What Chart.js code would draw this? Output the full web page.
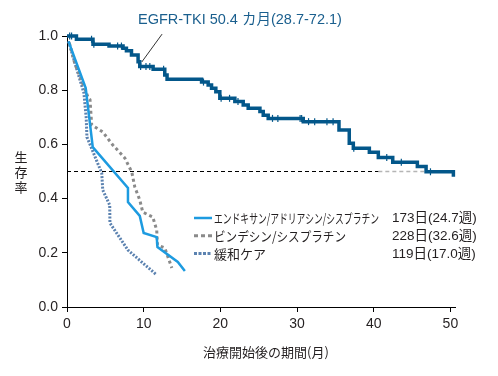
<!DOCTYPE html>
<html>
<head>
<meta charset="utf-8">
<script src="https://cdn.jsdelivr.net/npm/chart.js@4/dist/chart.umd.min.js"></script>
<style>
html, body { margin: 0; padding: 0; background: #fff; }
</style>
</head>
<body>
<canvas id="myChart" width="498" height="376"></canvas>
<script>
// EGFR-TKI (Kaplan-Meier, step)
var egfrMonths = [0, 1.23, 3.39, 5.48, 7.31, 7.75, 8.41, 9.27, 9.49, 11.23, 12.75, 13.05, 17.55, 18.41, 18.85, 19.41, 19.93, 21.89, 22.98, 23.63, 25.16, 25.59, 26.24, 30.81, 35.47, 36.81, 37.34, 39.43, 40.6, 42.48, 45.69, 46.83, 50.39];
var egfrSurv = [1.0, 0.988, 0.970, 0.963, 0.955, 0.946, 0.930, 0.905, 0.887, 0.877, 0.856, 0.840, 0.830, 0.819, 0.807, 0.794, 0.770, 0.758, 0.745, 0.733, 0.721, 0.708, 0.696, 0.684, 0.653, 0.604, 0.586, 0.571, 0.552, 0.534, 0.518, 0.499, 0.481];
var egfrCensor = [0.35, 0.6, 3.2, 3.5, 6.6, 7.1, 9.6, 10.3, 10.8, 12.6, 17.8, 20.1, 21.2, 22.3, 26.8, 27.5, 30.4, 30.6, 31.5, 32.3, 33.9, 34.7, 37.4, 41.7, 43.6, 47.4];

// エンドキサン/アドリアシン/シスプラチン
var capMonths = [0.2, 2.44, 3.36, 7.95, 7.95, 9.49, 10.0, 11.7, 11.8, 14.45, 15.37];
var capSurv = [0.98, 0.808, 0.59, 0.439, 0.387, 0.336, 0.273, 0.258, 0.221, 0.166, 0.133];

// ビンデシン/シスプラチン
var vpMonths = [0.3, 1.0, 2.8, 3.0, 3.22, 4.66, 5.97, 7.53, 8.45, 8.84, 9.49, 9.88, 11.19, 11.7, 11.8, 12.75, 13.67];
var vpSurv = [0.975, 0.90, 0.77, 0.765, 0.672, 0.646, 0.598, 0.55, 0.498, 0.443, 0.395, 0.35, 0.332, 0.284, 0.229, 0.218, 0.144];

// 緩和ケア
var bscMonths = [0.2, 2.2, 2.5, 2.6, 3.0, 4.53, 4.66, 5.57, 5.6, 7.95, 11.7];
var bscSurv = [0.98, 0.79, 0.70, 0.627, 0.60, 0.494, 0.432, 0.376, 0.31, 0.21, 0.118];

var refLineY = 0.5;
var refLineX = [0, 40.6, 50.4];
var leaderX = [9.75, 12.4];
var leaderY = [0.904, 1.007];

var xTicks = [0, 10, 20, 30, 40, 50];
var yTicks = [0, 0.2, 0.4, 0.6, 0.8, 1.0];

var annoText = 'EGFR-TKI 50.4 カ月(28.7-72.1)';
var legendNames = ['エンドキサン/アドリアシン/シスプラチン', 'ビンデシン/シスプラチン', '緩和ケア'];
var legendValues = ['173日(24.7週)', '228日(32.6週)', '119日(17.0週)'];
var xTitle = '治療開始後の期間(月)';
var yTitle = '生存率';

var colEgfr = '#03578a';
var colCap = '#1d9be0';
var colVp = '#8a8a8a';
var colBsc = '#5b82b0';

function toPts(xs, ys) {
	var out = [];
	for (var i = 0; i < xs.length; i++) out.push({x: xs[i], y: ys[i]});
	return out;
}

function stepAt(t) {
	var v = egfrSurv[0];
	for (var i = 0; i < egfrMonths.length; i++) {
		if (egfrMonths[i] <= t) v = egfrSurv[i];
	}
	return v;
}

var censorPts = egfrCensor.map(function(t) { return {x: t, y: stepAt(t)}; });

var legendStyles = [
	{color: colCap, width: 2.5, dash: []},
	{color: colVp, width: 3, dash: [4, 3]},
	{color: colBsc, width: 3, dash: [3, 1.5]}
];
var legendMaxW = [165, 132, 60];

var textPlugin = {
	id: 'texts',
	afterDraw: function(chart) {
		var ctx = chart.ctx;
		ctx.save();
		ctx.textBaseline = 'middle';

		ctx.fillStyle = '#1a5f8e';
		ctx.font = '14.5px "Liberation Sans", "Noto Sans CJK JP"';
		ctx.fillText(annoText, 138, 20);

		for (var i = 0; i < legendNames.length; i++) {
			var y = 218 + i * 17.7;
			var st = legendStyles[i];
			ctx.strokeStyle = st.color;
			ctx.lineWidth = st.width;
			ctx.setLineDash(st.dash);
			ctx.beginPath();
			ctx.moveTo(194, y);
			ctx.lineTo(212, y);
			ctx.stroke();
			ctx.setLineDash([]);
			ctx.fillStyle = '#231f20';
			ctx.font = '13px "Noto Sans CJK JP"';
			ctx.fillText(legendNames[i], 214, y + 0.5, legendMaxW[i]);
			ctx.font = '13.5px "Liberation Sans", "Noto Sans CJK JP"';
			ctx.fillText(legendValues[i], 392, y + 0.5);
		}

		ctx.fillStyle = '#231f20';
		ctx.font = '13px "Noto Sans CJK JP"';
		ctx.textAlign = 'center';
		ctx.fillText(xTitle, 266, 352);
		for (var j = 0; j < yTitle.length; j++) {
			ctx.fillText(yTitle.charAt(j), 21, 157 + j * 15);
		}
		ctx.restore();
	}
};

var ctx = document.getElementById('myChart');

var data = {
	datasets: [
		{
			label: 'censor',
			data: censorPts,
			showLine: false,
			pointStyle: 'line',
			rotation: 90,
			pointRadius: 3.5,
			borderWidth: 1.2,
			borderColor: colEgfr,
			backgroundColor: colEgfr,
			clip: false
		},
		{
			label: 'EGFR-TKI',
			data: toPts(egfrMonths, egfrSurv),
			showLine: true,
			stepped: 'before',
			borderColor: colEgfr,
			borderWidth: 3.5,
			pointRadius: 0,
			fill: false,
			clip: false
		},
		{
			label: legendNames[0],
			data: toPts(capMonths, capSurv),
			showLine: true,
			borderColor: colCap,
			borderWidth: 2.5,
			pointRadius: 0,
			lineTension: 0,
			fill: false
		},
		{
			label: legendNames[1],
			data: toPts(vpMonths, vpSurv),
			showLine: true,
			borderColor: colVp,
			borderWidth: 3,
			borderDash: [3, 3],
			pointRadius: 0,
			lineTension: 0,
			fill: false
		},
		{
			label: legendNames[2],
			data: toPts(bscMonths, bscSurv),
			showLine: true,
			borderColor: colBsc,
			borderWidth: 3,
			borderDash: [2, 1.5],
			pointRadius: 0,
			lineTension: 0,
			fill: false
		},
		{
			label: 'leader',
			data: toPts(leaderX, leaderY),
			showLine: true,
			borderColor: '#333',
			borderWidth: 1,
			pointRadius: 0,
			clip: false
		},
		{
			label: 'median',
			data: [{x: refLineX[0], y: refLineY}, {x: refLineX[1], y: refLineY}],
			showLine: true,
			borderColor: '#000',
			borderWidth: 1,
			borderDash: [4, 3],
			pointRadius: 0
		},
		{
			label: 'median2',
			data: [{x: refLineX[1], y: refLineY}, {x: refLineX[2], y: refLineY}],
			showLine: true,
			borderColor: '#b5b5b5',
			borderWidth: 1.5,
			borderDash: [4, 3],
			pointRadius: 0
		}
	]
};

var myChart = new Chart(ctx, {
	type: 'scatter',
	data: data,
	options: {
		responsive: false,
		animation: false,
		events: [],
		layout: { padding: { top: 36, right: 43, left: 0, bottom: 0 } },
		plugins: { legend: { display: false }, tooltip: { enabled: false } },
		scales: {
			x: {
				type: 'linear',
				min: 0,
				max: 50.6,
				afterBuildTicks: function(s) { s.ticks = xTicks.map(function(v) { return {value: v}; }); },
				afterFit: function(s) { s.height = 69; },
				ticks: { padding: 4, color: '#231f20', font: { family: 'Liberation Sans', size: 14 }, maxRotation: 0, autoSkip: false },
				grid: { drawOnChartArea: false, drawTicks: true, tickLength: 5, color: '#000', lineWidth: 1 },
				border: { display: true, color: '#000', width: 1 }
			},
			y: {
				type: 'linear',
				min: 0,
				max: 1,
				afterBuildTicks: function(s) { s.ticks = yTicks.map(function(v) { return {value: v}; }); },
				afterFit: function(s) { s.width = 67; },
				ticks: { padding: 4, color: '#231f20', font: { family: 'Liberation Sans', size: 14 }, callback: function(v) { return Number(v).toFixed(1); } },
				grid: { drawOnChartArea: false, drawTicks: true, tickLength: 5, color: '#000', lineWidth: 1 },
				border: { display: true, color: '#000', width: 1 }
			}
		}
	},
	plugins: [textPlugin]
});
</script>
</body>
</html>
